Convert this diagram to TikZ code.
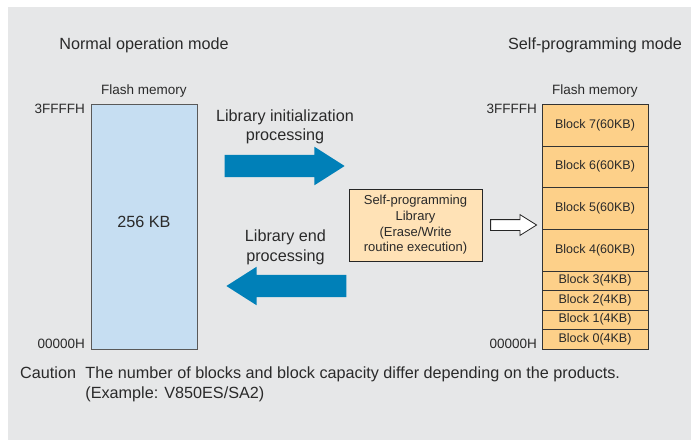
\documentclass[tikz,border=0pt]{standalone}
\usepackage{fontspec}
\setmainfont{Liberation Sans}
\usetikzlibrary{positioning,shapes.arrows}
\definecolor{panelgray}{HTML}{E6E7E8}
\definecolor{flashblue}{HTML}{C6DEF2}
\definecolor{blockorange}{HTML}{FDD089}
\definecolor{libfill}{HTML}{FFE2B6}
\definecolor{arrowblue}{HTML}{0080B8}
\definecolor{inkgray}{HTML}{2A2A2A}
\tikzset{
	modetext/.style={font=\fontsize{16.2}{19.5}\selectfont, align=center, inner sep=0pt, text=inkgray},
	labeltext/.style={font=\fontsize{13.5}{15.7}\selectfont, inner sep=0pt, text=inkgray},
	flashbox/.style={draw=black!65, fill=flashblue, minimum width=106pt, minimum height=245pt, outer sep=0pt},
	blockbox/.style={draw=black!80, fill=blockorange, minimum width=106pt, outer sep=0pt, inner sep=0pt, text=inkgray, font=\fontsize{12.5}{15}\selectfont},
	bigblock/.style={blockbox, minimum height=41.75pt},
	smallblock/.style={blockbox, minimum height=19.5pt},
	libbox/.style={draw=black!85, fill=libfill, align=center, minimum width=133pt, minimum height=72pt, inner sep=0pt, text=inkgray, font=\fontsize{13}{15.7}\selectfont},
	procarrow/.style={single arrow, fill=arrowblue, minimum height=120pt, minimum width=38pt, single arrow head extend=8pt, single arrow tip angle=65, inner xsep=0pt, inner ysep=11pt, anchor=tip},
	writearrow/.style={single arrow, draw=black!85, fill=white, minimum height=46pt, minimum width=20pt, single arrow head extend=5pt, single arrow tip angle=64, inner xsep=0pt, inner ysep=5pt, line width=0.8pt}
}
\begin{document}
\begin{tikzpicture}[x=1pt, y=-1pt]
	\useasboundingbox (0,0) rectangle (691,440);
	\fill[panelgray] (8,7) rectangle (691,440);
	% normal operation mode
	\node[flashbox] (flashL) at (144,226.5) {};
	\node[modetext] (sizeL) at (144,222) {256 KB};
	\node[labeltext, above=7pt of flashL] (memL) {Flash memory};
	\node[modetext, above=31pt of memL] (modeL) {Normal operation mode};
	\node[labeltext, below left=0pt and 6pt of flashL.north west] (topL) {3FFFFH};
	\node[labeltext, above left=0pt and 6pt of flashL.south west] (botL) {00000H};
	% self-programming mode
	\node[bigblock] (blk7) at (595,124.875) {Block 7(60KB)};
	\foreach \n/\p in {6/7,5/6,4/5}
		\node[bigblock, below=0pt of blk\p] (blk\n) {Block \n(60KB)};
	\foreach \n/\p in {3/4,2/3,1/2,0/1}
		\node[smallblock, below=0pt of blk\p] (blk\n) {Block \n(4KB)};
	\node[labeltext, above=7pt of blk7] (memR) {Flash memory};
	\node[modetext, above=31pt of memR] (modeR) {Self-programming mode};
	\node[labeltext, below left=0pt and 5pt of blk7.north west] (topR) {3FFFFH};
	\node[labeltext, above left=0pt and 5pt of blk0.south west] (botR) {00000H};
	% library and arrows
	\node[libbox] (lib) at (415.5,225) {Self-programming\\Library\\(Erase/Write\\routine execution)};
	\node[writearrow, right=8pt of lib] (write) {};
	\node[procarrow] (initarrow) at (345,166) {};
	\node[modetext] (initlabel) at (285,127) {Library initialization\\processing};
	\node[procarrow, shape border rotate=180] (endarrow) at (226,286) {};
	\node[modetext] (endlabel) at (285.5,247.5) {Library end\\processing};
	% caution
	\node[modetext, anchor=north west] (caution) at (20,367) {Caution};
	\node[modetext, align=left, right=9pt of caution.north east, anchor=north west] (note) {The number of blocks and block capacity differ depending on the products.\\(Example: V850ES/SA2)};
\end{tikzpicture}
\end{document}
